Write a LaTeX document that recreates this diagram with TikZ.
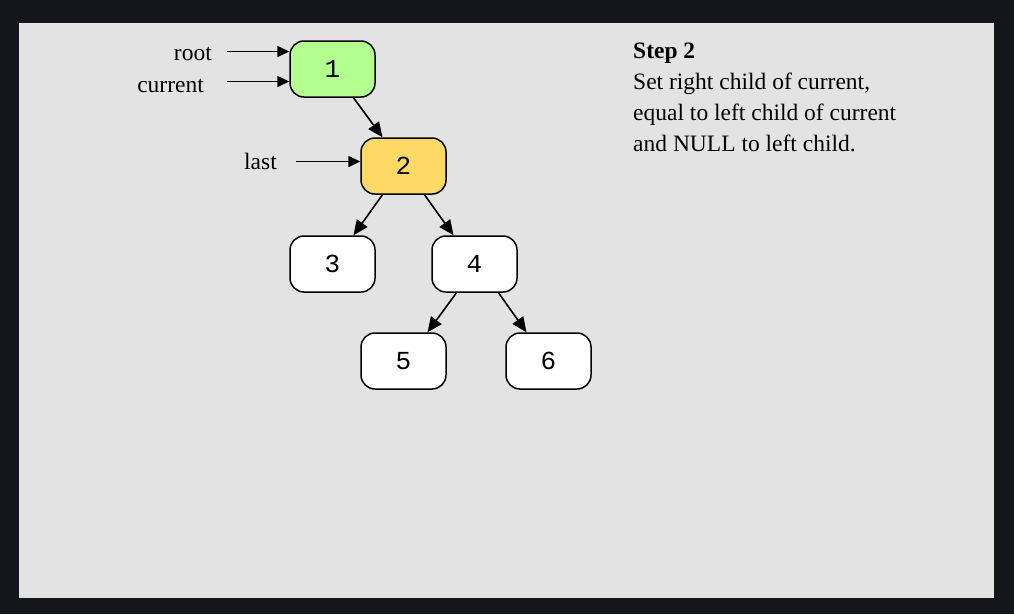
\documentclass[tikz,border=0pt]{standalone}
\usepackage{fontspec}
\setmainfont{Liberation Serif}
\newfontfamily\numfont{Liberation Mono}
\usetikzlibrary{arrows.meta}
\definecolor{outerbg}{RGB}{21,21,28}
\definecolor{panelbg}{RGB}{227,227,227}
\definecolor{rootgreen}{RGB}{178,255,143}
\definecolor{lastyellow}{RGB}{255,217,102}
\tikzset{
  treenode/.style={draw=black, line width=1.5pt, rounded corners=14pt, minimum width=85pt, minimum height=56pt, inner sep=0pt, fill=white, font=\numfont\fontsize{26}{26}\selectfont},
  edge/.style={line width=1.6pt, -{Triangle[length=15pt,width=13pt]}},
  ptr/.style={line width=1.6pt, -{Triangle[length=12pt,width=11pt]}},
  lbl/.style={inner sep=0pt, font=\fontsize{23.5}{23.5}\selectfont},
}
\begin{document}
\begin{tikzpicture}[x=1pt,y=-1pt]
\useasboundingbox (0,0) rectangle (1014,614);
\fill[outerbg] (0,0) rectangle (1014,614);
\fill[panelbg] (19,23) rectangle (994,598);

\node[treenode, fill=rootgreen] (n1) at (332.5,69) {1};
\node[treenode, fill=lastyellow] (n2) at (403.5,166) {2};
\node[treenode] (n3) at (332.5,264) {3};
\node[treenode] (n4) at (474.5,264) {4};
\node[treenode] (n5) at (403.5,361) {5};
\node[treenode] (n6) at (548.5,361) {6};

\draw[edge] ([xshift=21pt]n1.south) -- ([xshift=-21pt]n2.north);
\draw[edge] ([xshift=-21pt]n2.south) -- ([xshift=21pt]n3.north);
\draw[edge] ([xshift=21pt]n2.south) -- ([xshift=-21pt]n4.north);
\draw[edge] ([xshift=-18pt]n4.south) -- ([xshift=24pt]n5.north);
\draw[edge] ([xshift=24pt]n4.south) -- ([xshift=-22pt]n6.north);

\node[lbl, anchor=base east] (lroot) at (212,60.5) {root};
\node[lbl, anchor=base east] (lcur) at (204,92.5) {current};
\node[lbl, anchor=base east] (llast) at (277,169) {last};

\coordinate (sroot) at (227,51.5);
\coordinate (scur) at (227,81.5);
\coordinate (slast) at (296,161.5);
\draw[ptr] (sroot) -- (sroot -| n1.west);
\draw[ptr] (scur) -- (scur -| n1.west);
\draw[ptr] (slast) -- (slast -| n2.west);

\node[lbl, anchor=base west] (t0) at (633,58) {\textbf{Step 2}};
\node[lbl, anchor=base west] (t1) at (633,89) {Set right child of current,};
\node[lbl, anchor=base west] (t2) at (633,120) {equal to left child of current};
\node[lbl, anchor=base west] (t3) at (633,151) {and NULL to left child.};
\end{tikzpicture}
\end{document}
